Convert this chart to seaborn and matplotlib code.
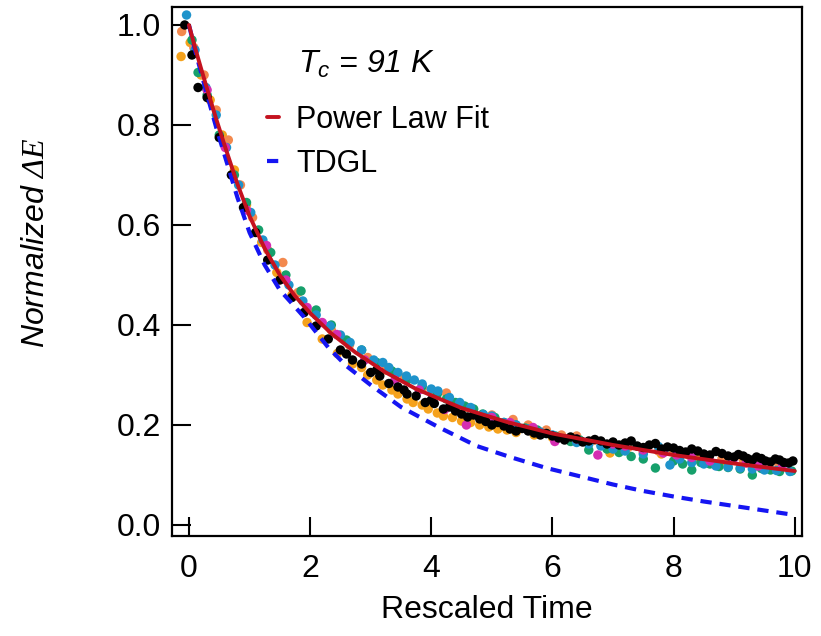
import numpy as np
import pandas as pd
import matplotlib
matplotlib.use("Agg")
import matplotlib.pyplot as plt
import seaborn as sns

# scatter series (rescaled time, normalized dE)
black_t = [-0.07, 0.05, 0.15, 0.3, 0.5, 0.7, 0.9, 1.1, 1.3, 1.5, 1.7, 1.9, 2.1, 2.3, 2.5, 2.6, 2.7,
           2.85, 3.0, 3.1, 3.15, 3.3, 3.45, 3.55, 3.6, 3.75, 3.9, 4.0, 4.05, 4.2, 4.3, 4.4, 4.5, 4.6,
           4.7, 4.8, 4.9, 5.0, 5.1, 5.2, 5.3, 5.4, 5.5, 5.6, 5.7, 5.8, 5.9, 6.0, 6.1, 6.2, 6.3, 6.4,
           6.5, 6.6, 6.7, 6.8, 6.9, 7.0, 7.1, 7.2, 7.3, 7.4, 7.5, 7.6, 7.7, 7.8, 7.9, 8.0, 8.1, 8.2,
           8.3, 8.4, 8.5, 8.6, 8.7, 8.8, 8.9, 9.0, 9.07, 9.15, 9.22, 9.3, 9.37, 9.45, 9.52, 9.6, 9.68,
           9.75, 9.82, 9.9, 9.97]
black_v = [1.0, 0.94, 0.875, 0.855, 0.775, 0.70, 0.635, 0.585, 0.53, 0.49, 0.455, 0.425, 0.398, 0.372,
           0.35, 0.342, 0.33, 0.322, 0.305, 0.31, 0.298, 0.283, 0.276, 0.27, 0.262, 0.258, 0.245, 0.25,
           0.243, 0.232, 0.236, 0.228, 0.222, 0.216, 0.22, 0.212, 0.207, 0.2, 0.205, 0.198, 0.192,
           0.188, 0.193, 0.188, 0.184, 0.18, 0.183, 0.178, 0.174, 0.17, 0.176, 0.172, 0.166, 0.168,
           0.171, 0.168, 0.162, 0.166, 0.16, 0.164, 0.168, 0.158, 0.155, 0.16, 0.163, 0.152, 0.156,
           0.154, 0.149, 0.146, 0.152, 0.148, 0.142, 0.14, 0.147, 0.143, 0.138, 0.136, 0.141, 0.138,
           0.133, 0.13, 0.136, 0.133, 0.128, 0.126, 0.132, 0.13, 0.125, 0.124, 0.128]

orange_t = [-0.13, 0.02, 0.2, 0.35, 0.55, 0.75, 0.95, 1.2, 1.45, 1.7, 1.95, 2.2, 2.45, 2.7, 2.85, 2.95,
            3.1, 3.2, 3.35, 3.45, 3.6, 3.7, 3.85, 3.95, 4.1, 4.2, 4.35, 4.5, 4.65, 4.8, 4.95, 5.1, 5.25,
            5.4, 5.7, 6.0, 6.3, 6.6, 6.95, 7.2, 7.5, 7.8, 8.1, 8.4, 8.8, 9.2]
orange_v = [0.937, 0.965, 0.9, 0.85, 0.78, 0.71, 0.64, 0.565, 0.505, 0.46, 0.405, 0.372, 0.343, 0.322,
            0.315, 0.3, 0.29, 0.28, 0.27, 0.262, 0.252, 0.245, 0.24, 0.232, 0.224, 0.218, 0.215, 0.208,
            0.205, 0.2, 0.196, 0.192, 0.19, 0.185, 0.18, 0.175, 0.168, 0.162, 0.144, 0.152, 0.146,
            0.142, 0.138, 0.132, 0.128, 0.124]

salmon_t = [-0.12, 0.08, 0.25, 0.45, 0.65, 0.85, 1.05, 1.3, 1.55, 1.8, 2.05, 2.35, 2.65, 2.95, 3.25,
            3.55, 3.85, 4.05, 4.25, 4.6, 5.0, 5.35, 5.6, 5.9, 6.15, 6.4, 6.7, 7.0, 7.25, 7.5, 7.75,
            8.0, 8.25, 8.5, 8.8, 9.15, 9.45, 9.7]
salmon_v = [0.987, 0.955, 0.9, 0.83, 0.77, 0.68, 0.615, 0.55, 0.525, 0.465, 0.425, 0.39, 0.36, 0.335,
            0.31, 0.295, 0.272, 0.258, 0.264, 0.235, 0.22, 0.211, 0.2, 0.19, 0.18, 0.178, 0.17, 0.164,
            0.155, 0.15, 0.148, 0.145, 0.14, 0.138, 0.133, 0.13, 0.124, 0.127]

green_t = [0.05, 0.15, 0.3, 0.5, 0.75, 0.95, 1.15, 1.35, 1.6, 1.85, 2.1, 2.35, 2.6, 2.85, 3.1, 3.35,
           3.6, 3.85, 4.1, 4.25, 4.4, 4.55, 4.7, 4.85, 5.05, 5.2, 5.4, 5.55, 5.75, 5.9, 6.05, 6.3, 6.45,
           6.6, 6.9, 7.1, 7.3, 7.5, 7.7, 8.0, 8.15, 8.3, 8.45, 8.6, 8.75, 8.9, 9.1, 9.3, 9.45, 9.6,
           9.75, 9.95]
green_v = [0.97, 0.905, 0.86, 0.78, 0.7, 0.645, 0.59, 0.545, 0.5, 0.468, 0.43, 0.4, 0.37, 0.35, 0.325,
           0.308, 0.29, 0.278, 0.262, 0.252, 0.245, 0.238, 0.232, 0.222, 0.215, 0.205, 0.2, 0.194,
           0.19, 0.183, 0.178, 0.167, 0.17, 0.15, 0.152, 0.145, 0.137, 0.132, 0.114, 0.128, 0.122,
           0.11, 0.125, 0.122, 0.117, 0.115, 0.112, 0.1, 0.113, 0.11, 0.107, 0.108]

blue_t = [-0.04, 0.1, 0.28, 0.45, 0.62, 0.82, 1.02, 1.22, 1.42, 1.65, 1.88, 2.1, 2.33, 2.5, 2.66, 2.85,
          3.05, 3.2, 3.3, 3.45, 3.59, 3.72, 3.85, 4.0, 4.11, 4.3, 4.47, 4.65, 4.86, 5.0, 5.2, 5.4, 5.6,
          5.8, 6.0, 6.2, 6.4, 6.6, 6.8, 7.0, 7.2, 7.5, 7.75, 7.94, 8.1, 8.3, 8.5, 8.7, 8.9, 9.1, 9.3,
          9.5, 9.7, 9.92]
blue_v = [1.02, 0.95, 0.875, 0.82, 0.755, 0.68, 0.625, 0.57, 0.52, 0.48, 0.448, 0.42, 0.398, 0.38,
          0.365, 0.35, 0.33, 0.325, 0.315, 0.305, 0.298, 0.29, 0.282, 0.272, 0.268, 0.255, 0.245, 0.235,
          0.221, 0.218, 0.205, 0.2, 0.192, 0.186, 0.18, 0.172, 0.165, 0.162, 0.158, 0.152, 0.148,
          0.142, 0.157, 0.12, 0.132, 0.125, 0.122, 0.118, 0.116, 0.114, 0.112, 0.11, 0.109, 0.107]

magenta_t = [0.3, 0.6, 0.95, 1.28, 1.6, 1.95, 2.2, 2.44, 2.9, 3.4, 3.8, 4.22, 4.58, 5.0, 5.3, 5.68,
             6.04, 6.4, 6.75, 7.0, 7.2, 7.5, 7.83, 8.05, 8.3, 8.6, 8.98, 9.2, 9.4, 9.8]
magenta_v = [0.87, 0.755, 0.63, 0.559, 0.49, 0.435, 0.405, 0.381, 0.33, 0.29, 0.27, 0.231, 0.2, 0.215,
             0.205, 0.195, 0.167, 0.172, 0.14, 0.162, 0.158, 0.15, 0.144, 0.14, 0.135, 0.128, 0.13,
             0.124, 0.118, 0.12]

# fitted curves
fit_t = [0, 0.1, 0.2, 0.3, 0.45, 0.6, 0.8, 1.0, 1.25, 1.5, 1.75, 2.0, 2.35, 2.75, 3.25, 3.75, 4.5,
         5.25, 6.0, 7.0, 8.0, 9.0, 10.0]
fit_v = [1.0, 0.955, 0.913, 0.872, 0.812, 0.755, 0.682, 0.618, 0.553, 0.5, 0.458, 0.424, 0.383, 0.345,
         0.305, 0.272, 0.234, 0.206, 0.183, 0.16, 0.14, 0.123, 0.108]

tdgl_t = [0, 0.1, 0.2, 0.3, 0.45, 0.6, 0.8, 1.0, 1.25, 1.5, 1.9, 2.3, 2.6, 3.0, 3.5, 4.1, 4.75, 5.3,
          5.9, 6.5, 7.0, 7.5, 8.0, 8.5, 9.0, 9.5, 10.0]
tdgl_v = [1.0, 0.95, 0.905, 0.86, 0.795, 0.735, 0.655, 0.585, 0.52, 0.47, 0.416, 0.355, 0.318, 0.28,
          0.236, 0.197, 0.158, 0.136, 0.114, 0.096, 0.081, 0.068, 0.057, 0.047, 0.038, 0.029, 0.02]

colors = {"orange": "#F5A21C", "salmon": "#F3894E", "green": "#16A06B", "blue": "#1E93CB",
          "magenta": "#D52DB2", "black": "#000000"}

series = [("orange", orange_t, orange_v), ("salmon", salmon_t, salmon_v),
          ("green", green_t, green_v), ("blue", blue_t, blue_v),
          ("magenta", magenta_t, magenta_v), ("black", black_t, black_v)]
df = pd.concat([pd.DataFrame({"t": t, "v": v, "set": name}) for name, t, v in series],
               ignore_index=True)
fit = pd.DataFrame({"t": fit_t, "v": fit_v})
tdgl = pd.DataFrame({"t": tdgl_t, "v": tdgl_v})

sns.set_theme(style="ticks")
plt.rcParams["font.family"] = ["Liberation Sans", "DejaVu Sans"]
plt.rcParams["mathtext.fontset"] = "custom"
plt.rcParams["mathtext.it"] = "Liberation Sans:italic"
plt.rcParams["mathtext.rm"] = "Liberation Sans"
plt.rcParams["mathtext.bf"] = "Liberation Serif:italic"
plt.rcParams["text.color"] = "black"
plt.rcParams["axes.labelcolor"] = "black"

fig = plt.figure(figsize=(8.21, 6.36), dpi=100)
ax = fig.add_axes([172/821, 100/636, 630/821, 529/636])

sns.scatterplot(data=df, x="t", y="v", hue="set", palette=colors, s=46, linewidth=0,
                legend=False, ax=ax, zorder=2)
sns.lineplot(data=tdgl, x="t", y="v", color="#1515F2", lw=3.0, linestyle=(0, (2.7, 1.9)),
             sort=False, estimator=None, ax=ax, zorder=3, label="TDGL")
sns.lineplot(data=fit, x="t", y="v", color="#C4121F", lw=2.8, sort=False, estimator=None,
             ax=ax, zorder=4, label="Power Law Fit")

ax.set_xlim(-0.28, 10.12)
ax.set_ylim(-0.022, 1.036)
ax.set_xticks(np.arange(0, 11, 2))
ax.set_yticks(np.arange(0, 1.01, 0.2))
ax.set_yticklabels([f"{v:.1f}" for v in np.arange(0, 1.01, 0.2)])
ax.tick_params(axis="both", direction="in", length=14, width=1.5, labelsize=23, colors="black")
ax.tick_params(axis="x", pad=13)
ax.tick_params(axis="y", pad=8)
for sp in ax.spines.values():
    sp.set_visible(True)
    sp.set_linewidth(1.6)
    sp.set_color("black")

ax.set_xlabel("Rescaled Time", fontsize=23, labelpad=8)
ax.set_ylabel(r"Normalized $\mathbf{\Delta E}$", fontsize=23, style="italic")
ax.yaxis.set_label_coords(-0.192, 0.554)

ax.text(0.2, 0.892, r"$T_c$ = 91 K", transform=ax.transAxes, fontsize=23, style="italic",
        va="center", ha="left")

handles, labels = ax.get_legend_handles_labels()
leg = ax.legend(handles[::-1], labels[::-1], loc="upper left", bbox_to_anchor=(0.151, 0.815),
                frameon=False, fontsize=22, handlelength=0.4, handletextpad=0.55,
                labelspacing=0.45, borderpad=0, borderaxespad=0)

fig.savefig("out.png", dpi=100)
